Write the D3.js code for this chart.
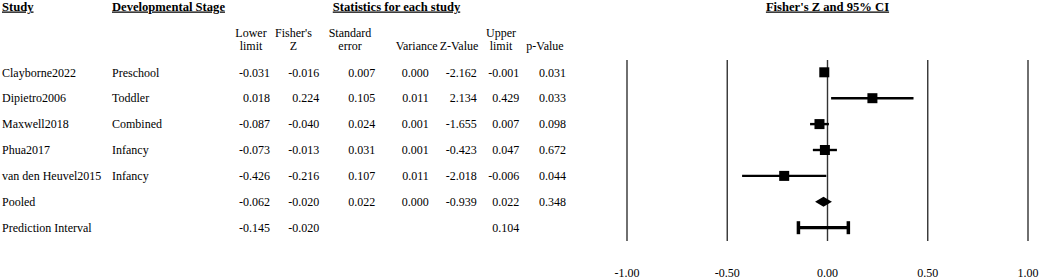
<!DOCTYPE html>
<html>
<head>
<meta charset="utf-8">
<script src="https://cdn.jsdelivr.net/npm/d3@7"></script>
<style>
  html, body { margin: 0; padding: 0; background: #fff; }
  svg { display: block; font-family: "Liberation Serif", "Times New Roman", serif; }
</style>
</head>
<body>
<svg id="chart" width="1040" height="279"></svg>
<script>
// ---- Data ----
const studies = ["Clayborne2022", "Dipietro2006", "Maxwell2018", "Phua2017", "van den Heuvel2015", "Pooled", "Prediction Interval"];
const stages = ["Preschool", "Toddler", "Combined", "Infancy", "Infancy", "", ""];
const lowerLimit = [-0.031, 0.018, -0.087, -0.073, -0.426, -0.062, -0.145];
const fisherZ = [-0.016, 0.224, -0.040, -0.013, -0.216, -0.020, -0.020];
const stdError = [0.007, 0.105, 0.024, 0.031, 0.107, 0.022, null];
const variance = [0.000, 0.011, 0.001, 0.001, 0.011, 0.000, null];
const zValue = [-2.162, 2.134, -1.655, -0.423, -2.018, -0.939, null];
const upperLimit = [-0.001, 0.429, 0.007, 0.047, -0.006, 0.022, 0.104];
const pValue = [0.031, 0.033, 0.098, 0.672, 0.044, 0.348, null];
const rowTypes = ["study", "study", "study", "study", "study", "pooled", "pi"];
const colHeaders = [["Lower", "limit"], ["Fisher's", "Z"], ["Standard", "error"], ["Variance"], ["Z-Value"], ["Upper", "limit"], ["p-Value"]];
const tickValues = [-1, -0.5, 0, 0.5, 1];
const tickLabels = ["-1.00", "-0.50", "0.00", "0.50", "1.00"];
const titles = { study: "Study", stage: "Developmental Stage", stats: "Statistics for each study", plot: "Fisher's Z and 95% CI" };

// ---- Layout ----
const svg = d3.select("#chart");
const fmt = d3.formatLocale({ decimal: ".", thousands: ",", grouping: [3], currency: ["", ""], minus: "-" }).format(".3f");
const fs = 12;
const x = d3.scaleLinear().domain([-1, 1]).range([627, 1028]);
const y = d3.scalePoint().domain(d3.range(studies.length)).range([72.3, 227.7]);
const lineTop = 60, lineBottom = 241;

// Headers (bold, underlined)
function header(txt, xp, anchor) {
  svg.append("text").attr("x", xp).attr("y", 10.5)
    .attr("text-anchor", anchor).attr("font-size", 12.6).attr("font-weight", "bold")
    .style("text-decoration", "underline").text(txt);
}
header(titles.study, 2, "start");
header(titles.stage, 112, "start");
header(titles.stats, 396.5, "middle");
header(titles.plot, x(0), "middle");

// Column headers
const colCenters = [251, 293.5, 350, 416.7, 459, 501, 545];
const colRight = [270, 319.3, 375.3, 428.7, 476.7, 519.3, 566];
colHeaders.forEach((lines, i) => {
  const t = svg.append("text").attr("text-anchor", "middle").attr("font-size", fs);
  const start = lines.length === 2 ? 37 : 50;
  lines.forEach((l, j) => {
    t.append("tspan").attr("x", colCenters[i]).attr("y", start + j * 13).text(l);
  });
});

// Table rows
const cols = [lowerLimit, fisherZ, stdError, variance, zValue, upperLimit, pValue];
studies.forEach((s, i) => {
  const yy = y(i) + 4.2;
  svg.append("text").attr("x", 2).attr("y", yy).attr("font-size", fs).text(s);
  svg.append("text").attr("x", 112).attr("y", yy).attr("font-size", fs).text(stages[i]);
  cols.forEach((c, k) => {
    if (c[i] === null) return;
    svg.append("text").attr("x", colRight[k]).attr("y", yy).attr("text-anchor", "end")
      .attr("font-size", fs).text(fmt(c[i]));
  });
});

// Vertical reference lines
svg.append("g").selectAll("line").data(tickValues).join("line")
  .attr("x1", d => x(d)).attr("x2", d => x(d))
  .attr("y1", lineTop).attr("y2", lineBottom)
  .attr("stroke", "#333").attr("stroke-width", 1.4);

// Tick labels
svg.append("g").selectAll("text").data(tickValues).join("text")
  .attr("x", d => x(d)).attr("y", 277).attr("text-anchor", "middle").attr("font-size", fs)
  .text((d, i) => tickLabels[i]);

// Marks
const g = svg.append("g");
studies.forEach((s, i) => {
  const cy = y(i);
  if (rowTypes[i] === "study") {
    g.append("line").attr("x1", x(lowerLimit[i])).attr("x2", x(upperLimit[i]))
      .attr("y1", cy).attr("y2", cy).attr("stroke", "#000").attr("stroke-width", 2.4);
    const sz = 10;
    g.append("rect").attr("x", x(fisherZ[i]) - sz / 2).attr("y", cy - sz / 2)
      .attr("width", sz).attr("height", sz).attr("fill", "#000");
  } else if (rowTypes[i] === "pooled") {
    const h = 5;
    g.append("path").attr("d", `M${x(lowerLimit[i])},${cy} L${x(fisherZ[i])},${cy - h} L${x(upperLimit[i])},${cy} L${x(fisherZ[i])},${cy + h} Z`)
      .attr("fill", "#000");
  } else {
    const h = 6.5;
    g.append("line").attr("x1", x(lowerLimit[i])).attr("x2", x(upperLimit[i]))
      .attr("y1", cy).attr("y2", cy).attr("stroke", "#000").attr("stroke-width", 3.2);
    [lowerLimit[i], upperLimit[i]].forEach(v => {
      g.append("line").attr("x1", x(v)).attr("x2", x(v)).attr("y1", cy - h).attr("y2", cy + h)
        .attr("stroke", "#000").attr("stroke-width", 3.5);
    });
  }
});
</script>
</body>
</html>
